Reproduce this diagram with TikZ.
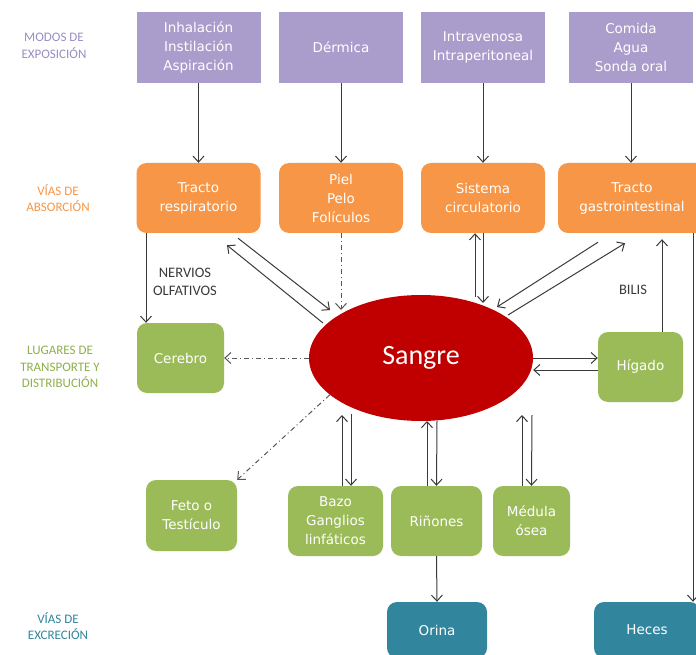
\documentclass[tikz,border=0pt]{standalone}
\usepackage{fontspec}
\setmainfont{DejaVu Sans}
\newfontfamily\etiq{Carlito}
\usetikzlibrary{arrows.meta,shapes.geometric}
\definecolor{lila}{HTML}{AB9DCB}
\definecolor{lilatexto}{HTML}{9A8DC2}
\definecolor{naranja}{HTML}{F79646}
\definecolor{verde}{HTML}{9BBB59}
\definecolor{verdetexto}{HTML}{8DB04C}
\definecolor{azulverde}{HTML}{31859C}
\definecolor{rojo}{HTML}{C00000}
\definecolor{gris}{HTML}{3A3A3A}
\tikzset{
  caja/.style={text=white, align=center, inner sep=2pt, font=\fontsize{13.5}{19}\selectfont},
  expo/.style={caja, fill=lila, minimum width=124pt, minimum height=71pt},
  absor/.style={caja, fill=naranja, rounded corners=10pt, minimum width=124pt, minimum height=70pt},
  distr/.style={caja, fill=verde, rounded corners=10pt, minimum height=70pt},
  excr/.style={caja, fill=azulverde, rounded corners=10pt, minimum height=56pt},
  titulo/.style={align=center, font=\etiq\fontsize{13}{16.5}\selectfont},
  nota/.style={align=center, text=gris, font=\etiq\fontsize{14.5}{18}\selectfont},
  flecha/.style={draw=gris, line width=1pt, -{Straight Barb[length=6pt,width=11pt]}},
  punteada/.style={flecha, draw=gris!85, dash pattern=on 5pt off 3pt on 1pt off 3pt}
}
\begin{document}
\begin{tikzpicture}[x=1pt,y=-1pt]
    \useasboundingbox (0,0) rectangle (696,655);
    % Titulos de fila
    \node[titulo, text=lilatexto] (t1) at (54,46) {MODOS DE\\EXPOSICIÓN};
    \node[titulo, text=naranja] (t2) at (58,198) {VÍAS DE\\ABSORCIÓN};
    \node[titulo, text=verdetexto] (t3) at (60,367) {LUGARES DE\\TRANSPORTE Y\\DISTRIBUCIÓN};
    \node[titulo, text=azulverde] (t4) at (58,626) {VÍAS DE\\EXCRECIÓN};
    % Modos de exposicion
    \node[expo] (inh) at (198.5,47.5) {Inhalación\\Instilación\\Aspiración};
    \node[expo] (derm) at (341,47.5) {Dérmica};
    \node[expo] (intra) at (483,47.5) {Intravenosa\\Intraperitoneal};
    \node[expo] (comida) at (631,47.5) {Comida\\Agua\\Sonda oral};
    % Vias de absorcion
    \node[absor] (resp) at (198.5,198) {Tracto\\respiratorio};
    \node[absor] (piel) at (341,198) {Piel\\Pelo\\Folículos};
    \node[absor] (circ) at (483,198) {Sistema\\circulatorio};
    \node[absor, minimum width=148pt] (gastro) at (632,198) {Tracto\\gastrointestinal};
    % Sangre
    \node[ellipse, fill=rojo, text=white, minimum width=224pt, minimum height=126pt,
          font=\etiq\fontsize{28}{30}\selectfont] (sangre) at (421,358) {Sangre};
    % Lugares de transporte y distribucion
    \node[distr, minimum width=87pt] (cerebro) at (180.5,358) {Cerebro};
    \node[distr, minimum width=85pt] (higado) at (640.5,367) {Hígado};
    \node[distr, minimum width=91pt, minimum height=71pt] (feto) at (191.5,515.5) {Feto o\\Testículo};
    \node[distr, minimum width=95pt] (bazo) at (335.5,521) {Bazo\\Ganglios\\linfáticos};
    \node[distr, minimum width=91pt] (rinon) at (436.5,521) {Riñones};
    \node[distr, minimum width=77pt] (medula) at (531.5,521) {Médula\\ósea};
    % Vias de excrecion
    \node[excr, minimum width=100pt] (orina) at (437,630) {Orina};
    \node[excr, minimum width=106pt] (heces) at (647,630) {Heces};
    % Exposicion a absorcion
    \draw[flecha] (inh) -- (resp);
    \draw[flecha] (derm) -- (piel);
    \draw[flecha] (intra) -- (circ);
    \draw[flecha] (comida.south) -- (comida.south |- gastro.north);
    % Nervios olfativos
    \draw[flecha] ([xshift=-52.5pt]resp.south) -- ([xshift=-34.5pt]cerebro.north);
    \node[nota] (nervios) at (185,282) {NERVIOS\\OLFATIVOS};
    % Tracto respiratorio y sangre
    \draw[flecha] ([shift={(39.5,5)}]resp.south) -- ([shift={(-91,-48)}]sangre.center);
    \draw[flecha] ([shift={(-98,-35)}]sangre.center) -- ([shift={(28.5,12)}]resp.south);
    % Piel a sangre
    \draw[punteada] (piel.south) -- ([shift={(-80,-48)}]sangre.center);
    % Sistema circulatorio y sangre
    \draw[flecha] ([shift={(54,-61)}]sangre.center) -- ([xshift=-8pt]circ.south);
    \draw[flecha] (circ.south) -- ([shift={(62,-55)}]sangre.center);
    % Tracto gastrointestinal y sangre
    \draw[flecha] ([shift={(-34,9)}]gastro.south) -- ([shift={(76,-51)}]sangre.center);
    \draw[flecha] ([shift={(87,-43)}]sangre.center) -- ([shift={(-7,10)}]gastro.south);
    % Bilis
    \draw[flecha] ([xshift=21.5pt]higado.north) -- ([shift={(30,6)}]gastro.south);
    \node[nota] (bilis) at (633,290) {BILIS};
    % Sangre e higado
    \draw[flecha] (sangre.east) -- (sangre.east -| higado.west);
    \draw[flecha] ([yshift=-3pt]higado.west) -- ([yshift=-12pt]sangre.east);
    % Sangre a cerebro y feto
    \draw[punteada] (sangre.west) -- (cerebro.east);
    \draw[punteada] (sangre.202) -- (feto.north east);
    % Bazo
    \draw[flecha] ([xshift=6.5pt]bazo.north) -- ([shift={(-79,57)}]sangre.center);
    \draw[flecha] ([shift={(-70,56)}]sangre.center) -- ([xshift=15.5pt]bazo.north);
    % Rinones
    \draw[flecha] ([xshift=-9.5pt]rinon.north) -- ([shift={(6,63)}]sangre.center);
    \draw[flecha] ([shift={(16,63)}]sangre.center) -- (rinon.north);
    % Medula osea
    \draw[flecha] ([xshift=-9.5pt]medula.north) -- ([shift={(101,57)}]sangre.center);
    \draw[flecha] ([shift={(111,57)}]sangre.center) -- (medula.north);
    % Excrecion
    \draw[flecha] (rinon.south) -- (orina.north);
    \draw[flecha] ([xshift=61pt]gastro.south) -- ([xshift=46pt]heces.north);
\end{tikzpicture}
\end{document}
